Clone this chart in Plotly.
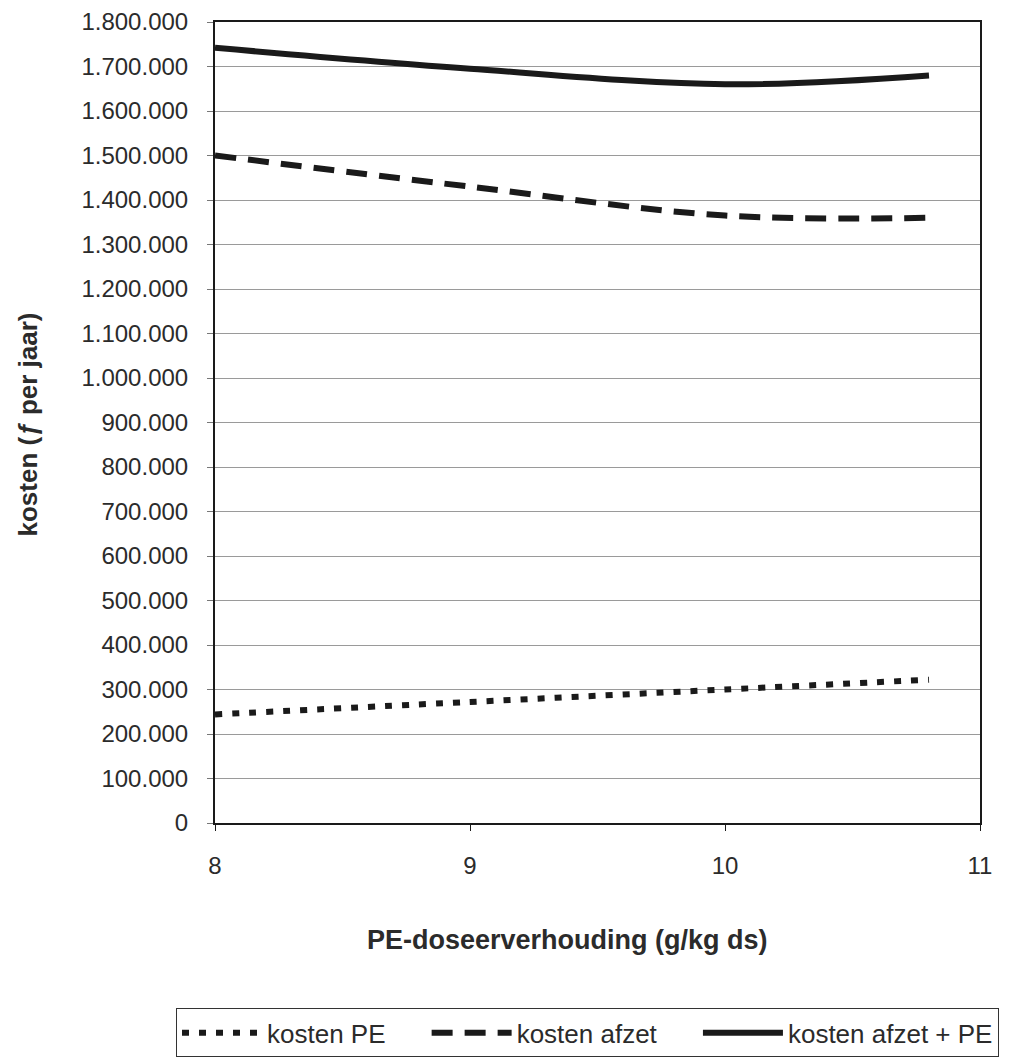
import plotly.graph_objects as go

# PE dosing ratio (g/kg ds) and yearly costs (guilders)
dosering = [8, 9, 10, 10.8]
kosten_pe = [244000, 272000, 300000, 322000]
kosten_afzet = [1500000, 1430000, 1365000, 1360000]
kosten_totaal = [1742000, 1695000, 1660000, 1680000]

# legend labels; trailing no-break spaces widen the gap between entries
series_names = ["kosten PE" + "\u00a0" * 5, "kosten afzet" + "\u00a0" * 5, "kosten afzet + PE"]
y_ticks = list(range(0, 1800001, 100000))
x_ticks = [8, 9, 10, 11]

ink = "#1a1a1a"
text_col = "#2b2b2b"
font_main = "Liberation Sans, Arial, sans-serif"

fig = go.Figure()
fig.add_trace(go.Scatter(
    x=dosering, y=kosten_pe, name=series_names[0], mode="lines",
    line=dict(color=ink, width=6, dash="7px,10px", shape="spline", smoothing=1.0),
))
fig.add_trace(go.Scatter(
    x=dosering, y=kosten_afzet, name=series_names[1], mode="lines",
    line=dict(color=ink, width=6, dash="21px,12px", shape="spline", smoothing=1.0),
))
fig.add_trace(go.Scatter(
    x=dosering, y=kosten_totaal, name=series_names[2], mode="lines",
    line=dict(color=ink, width=6, shape="spline", smoothing=1.0),
))

fig.update_layout(
    width=1017, height=1061,
    margin=dict(l=215, r=37, t=22, b=238, autoexpand=False),
    paper_bgcolor="white", plot_bgcolor="white",
    separators=",.",
    font=dict(family=font_main, color=text_col, size=24),
    showlegend=True,
    legend=dict(
        orientation="h",
        x=-0.051, xanchor="left", y=-0.262, yanchor="middle",
        bordercolor="#333", borderwidth=1, bgcolor="white",
        font=dict(size=26, color=text_col, family=font_main),
        itemwidth=80, traceorder="normal",
    ),
    xaxis=dict(
        range=[8, 11], tickvals=x_ticks, ticks="outside", ticklen=6,
        tickcolor=ink, ticklabelstandoff=14,
        showline=True, linecolor=ink, linewidth=2, mirror=True,
        showgrid=False, zeroline=False,
    ),
    yaxis=dict(
        range=[0, 1800000], tickvals=y_ticks, tickformat=",d",
        ticks="outside", ticklen=6, tickcolor="#777", ticklabelstandoff=14,
        showline=True, linecolor=ink, linewidth=2, mirror=True,
        showgrid=True, gridcolor="#9a9a9a", gridwidth=1, zeroline=False,
    ),
)

fig.add_annotation(
    text="<b>PE-doseerverhouding (g/kg ds)</b>",
    xref="paper", yref="paper", x=0.461, y=-0.146,
    xanchor="center", yanchor="middle", showarrow=False,
    font=dict(size=27, color=text_col, family=font_main),
)
fig.add_annotation(
    text="<b>kosten (<i>ƒ</i> per jaar)</b>",
    xref="paper", yref="paper", x=-0.245, y=0.497,
    xanchor="center", yanchor="middle", textangle=-90, showarrow=False,
    font=dict(size=26, color=text_col, family=font_main),
)

fig.write_html("out.html")
